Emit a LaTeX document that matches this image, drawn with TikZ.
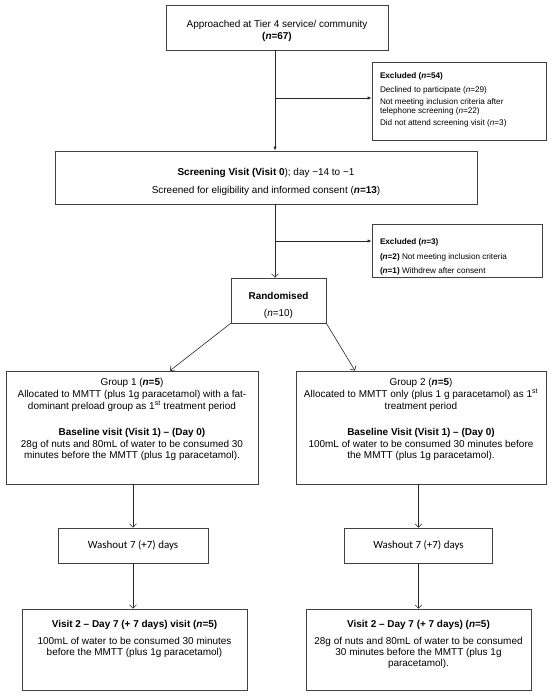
\documentclass[tikz,border=0pt]{standalone}
\usepackage{fontspec}
\setmainfont{Liberation Sans}
\newfontfamily\calib{Carlito}
\usetikzlibrary{arrows.meta,calc}
\newcommand\tb[4]{\begin{minipage}[c][#2][t]{#1}\vspace*{#3}#4\end{minipage}}
\newcommand\bn[1]{\textbf{\textit{n}=#1}}
\begin{document}
\begin{tikzpicture}[x=1bp,y=-1bp,
  box/.style={draw=black!75, line width=0.7bp, inner sep=0pt, font=\fontsize{10}{12}\selectfont},
  exbox/.style={draw=black!75, line width=0.7bp, inner xsep=8bp, inner ysep=0pt, font=\fontsize{8.2}{9}\selectfont},
  wbox/.style={box, font=\calib\fontsize{11}{12}\selectfont, minimum height=35bp},
  arr/.style={-{Latex[length=4bp,width=3.2bp]}, line width=0.6bp, draw=black!85},
  oarr/.style={-{Straight Barb[length=3.5bp,width=7bp]}, line width=0.6bp, draw=black!85}]
\useasboundingbox (0,0) rectangle (550,696);

% top section
\node[box] (appr) at (277,27.5) {\tb{222bp}{45bp}{15bp}{\centering Approached at Tier 4 service/ community\\\textbf{(\textit{n}=67)}}};

\node[exbox] (ex1) at (459,101) {\tb{158bp}{78bp}{11bp}{\raggedright
  \textbf{Excluded (\textit{n}=54)}\\[5bp]
  Declined to participate (\textit{n}=29)\\[3bp]
  Not meeting inclusion criteria after\\ telephone screening (\textit{n}=22)\\[3bp]
  Did not attend screening visit (\textit{n}=3)}};

\node[box] (scr) at (266,177.5) {\tb{422bp}{53bp}{17bp}{\centering
  \textbf{Screening Visit (Visit 0}); day −14 to −1\\[6bp]
  Screened for eligibility and informed consent (\textbf{\textit{n}=13})}};

\node[exbox] (ex2) at (457,250.5) {\tb{154bp}{53bp}{15bp}{\raggedright
  \textbf{Excluded (\textit{n}=3)}\\[5.5bp]
  \textbf{(\textit{n}=2)} Not meeting inclusion criteria\\[5.5bp]
  \textbf{(\textit{n}=1)} Withdrew after consent}};

\node[box] (rand) at (278.5,300.5) {\tb{95bp}{45bp}{14bp}{\centering
  \textbf{Randomised}\\[5bp](\textit{n}=10)}};

% groups
\node[box] (g1) at (132,427.5) {\tb{252bp}{113bp}{7bp}{\centering
  Group 1 (\bn{5})\\
  Allocated to MMTT (plus 1g paracetamol) with a fat-\\
  dominant preload group as 1\textsuperscript{st} treatment period\\[14bp]
  \textbf{Baseline visit (Visit 1) – (Day 0)}\\
  28g of nuts and 80mL of water to be consumed 30\\
  minutes before the MMTT (plus 1g paracetamol).}};

\node[box] (g2) at (421,427.5) {\tb{250bp}{113bp}{7bp}{\centering
  Group 2 (\bn{5})\\
  Allocated to MMTT only (plus 1 g paracetamol) as 1\textsuperscript{st}\\
  treatment period\\[14bp]
  \textbf{Baseline Visit (Visit 1) – (Day 0)}\\
  100mL of water to be consumed 30 minutes before\\
  the MMTT (plus 1g paracetamol).}};

% washout
\node[wbox, minimum width=150bp] (w1) at (133,545.5) {Washout 7 (+7) days};
\node[wbox, minimum width=148bp] (w2) at (418.5,545.5) {Washout 7 (+7) days};

% visit 2
\node[box, font=\fontsize{10}{11}\selectfont] (v1) at (134.5,649.5) {\tb{225bp}{81bp}{11bp}{\centering
  \textbf{Visit 2 – Day 7 (+ 7 days) visit (\textit{n}=5)}\\[6bp]
  100mL of water to be consumed 30 minutes\\
  before the MMTT (plus 1g paracetamol)}};

\node[box, font=\fontsize{10}{11}\selectfont] (v2) at (418.5,649.5) {\tb{225bp}{81bp}{11bp}{\centering
  \textbf{Visit 2 – Day 7 (+ 7 days) (\textit{n}=5)}\\[6bp]
  28g of nuts and 80mL of water to be consumed\\
  30 minutes before the MMTT (plus 1g\\
  paracetamol).}};

% connectors
\coordinate (b1) at (275,98);
\coordinate (b2) at (275,241);
\draw[arr] (appr.south -| b1) -- (scr.north -| b1);
\draw[arr] (b1) -- (b1 -| ex1.west);
\draw[oarr] (scr.south -| b2) -- (rand.north -| b2);
\draw[arr] (b2) -- (b2 -| ex2.west);
\draw[oarr] (rand.south west) -- ($(g1.north)+(38,0)$);
\draw[oarr] (rand.south east) -- ($(g2.north)+(-66,0)$);
\draw[oarr] (g1.south -| w1) -- (w1.north);
\draw[oarr] (g2.south -| w2) -- (w2.north);
\draw[oarr] (w1.south) -- (w1.south |- v1.north);
\draw[oarr] (w2.south) -- (w2.south |- v2.north);
\end{tikzpicture}
\end{document}
